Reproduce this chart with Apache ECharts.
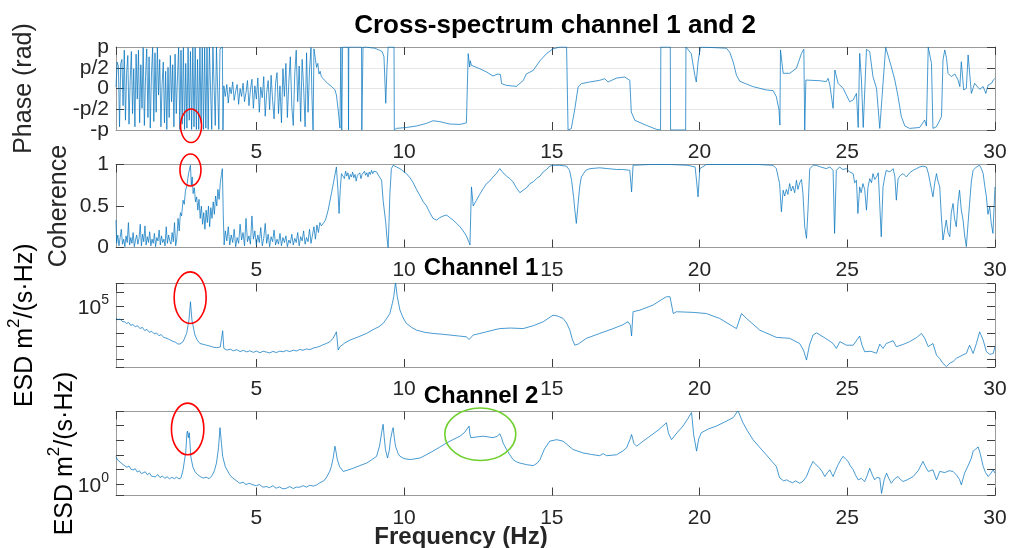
<!DOCTYPE html>
<html><head><meta charset="utf-8">
<script src="https://cdn.jsdelivr.net/npm/echarts@6/dist/echarts.min.js"></script>
<style>html,body{margin:0;padding:0;background:#fff}#c{width:1011px;height:548px}</style>
</head><body><div id="c"></div>
<script>
// ---------------- data ----------------
const FREQ_MIN = 0.25, FREQ_MAX = 30;
const xTickLabels = [5, 10, 15, 20, 25, 30];
const phaseTickLabels = ['-p', '-p/2', '0', 'p/2', 'p'];
const coherenceTickLabels = ['0', '0.5', '1'];
const titles = ['Cross-spectrum channel 1 and 2', 'Channel 1', 'Channel 2'];
const yLabels = ['Phase (rad)', 'Coherence', 'ESD m2/(s·Hz)', 'ESD m2/(s·Hz)'];
const xLabel = 'Frequency (Hz)';

// phase [Hz, rad]
const phase = [
[0.25,0.1],[0.29,2.0],[0.33,1.7],[0.37,-2.9],[0.41,1.9],[0.45,2.2],[0.49,-1.3],[0.53,2.9],[0.57,-2.4],[0.61,1.2],
[0.65,2.5],[0.69,-2.7],[0.73,0.6],[0.77,2.8],[0.81,-1.9],[0.85,1.5],[0.89,-2.9],[0.93,2.6],[0.97,-0.8],[1.01,2.9],
[1.05,-2.6],[1.09,1.8],[1.13,-1.5],[1.17,3.1],[1.21,-2.8],[1.25,0.9],[1.29,3.0],[1.33,-2.2],[1.37,2.4],[1.41,-3.0],
[1.45,1.1],[1.49,3.1],[1.53,-2.5],[1.57,2.7],[1.61,-1.8],[1.65,3.1],[1.69,-0.5],[1.73,2.2],[1.77,-2.9],[1.81,0.3],
[1.85,2.0],[1.89,-2.6],[1.93,1.3],[1.97,-3.1],[2.01,1.6],[2.05,-2.2],[2.09,2.5],[2.13,-1.0],[2.17,1.8],[2.21,-2.9],
[2.25,2.6],[2.29,-1.9],[2.33,0.8],[2.37,3.1],[2.41,-3.1],[2.45,2.9],[2.49,-2.7],[2.53,3.1],[2.57,-3.1],[2.61,1.9],
[2.65,-3.0],[2.69,3.1],[2.73,-2.4],[2.77,2.8],[2.81,-3.1],[2.85,3.1],[2.89,-2.9],[2.93,3.1],[2.97,-3.1],[3.01,2.2],
[3.05,-3.1],[3.09,3.1],[3.13,-2.6],[3.17,3.1],[3.21,-3.1],[3.25,3.1],[3.29,-3.0],[3.33,3.1],[3.37,-3.1],[3.41,3.14],
[3.45,3.14],[3.49,-3.1],[3.53,3.14],[3.57,3.14],[3.61,-2.8],[3.65,3.14],[3.69,3.1],[3.73,-3.1],[3.77,3.0],[3.81,3.14],
[3.85,3.14],[3.87,-3.14],[3.9,0.2],[3.95,-0.6],[4.0,0.3],[4.05,-1.1],[4.1,0.1],[4.15,-0.4],[4.2,0.5],[4.25,-0.9],
[4.3,-0.2],[4.35,0.3],[4.4,-1.2],[4.45,0.0],[4.5,-0.6],[4.55,0.4],[4.6,-1.0],[4.65,-0.3],[4.7,0.6],[4.75,-1.3],
[4.8,-0.1],[4.85,0.7],[4.9,-1.5],[4.95,0.2],[5.0,-0.8],[5.05,0.8],[5.1,-1.8],[5.15,0.1],[5.2,-0.7],[5.25,0.9],
[5.3,-2.1],[5.35,-0.3],[5.4,0.6],[5.45,-1.6],[5.5,1.0],[5.55,-0.9],[5.6,-2.3],[5.65,0.4],[5.7,1.2],[5.75,-1.9],
[5.8,0.2],[5.85,-2.6],[5.9,1.5],[5.95,-0.6],[6.0,1.9],[6.05,-2.2],[6.1,0.5],[6.15,2.4],[6.2,-1.4],[6.25,-2.8],
[6.3,1.1],[6.35,2.9],[6.4,-1.0],[6.45,1.7],[6.5,-2.5],[6.55,2.2],[6.6,0.1],[6.65,-2.9],[6.7,2.7],[6.75,-1.8],
[6.8,1.4],[6.85,3.1],[6.88,-0.5],[6.92,-3.14],[6.95,3.0],[7.0,2.2],[7.04,1.6],[7.08,1.9],[7.12,1.1],[7.16,1.3],
[7.2,0.9],[7.26,0.8],[7.32,0.6],[7.37,0.5],[7.43,0.35],[7.49,0.27],[7.55,0.15],[7.6,0.09],[7.66,-0.1],[7.71,-0.49],
[7.77,-1.63],[7.83,-3.0],[7.86,3.14],[7.89,-3.14],[7.92,3.14],[8.11,3.14],[8.12,-3.14],[8.13,3.14],[8.56,3.14],[8.57,-3.14],
[8.6,-3.14],[8.61,3.14],[8.73,3.14],[8.85,3.09],[9.0,3.05],[9.15,2.92],[9.26,2.79],[9.32,2.4],[9.38,-1.12],[9.42,1.5],
[9.46,3.14],[9.66,3.14],[9.67,-3.14],[9.74,-3.02],[10.08,-2.95],[10.42,-2.84],[10.76,-2.64],[10.98,-2.44],[11.21,-2.51],[11.55,-2.69],
[11.89,-2.72],[12.11,-2.6],[12.16,-2.7],[12.17,2.64],[12.22,1.63],[12.24,2.1],[12.28,1.75],[12.56,1.5],[12.79,1.25],[13.01,0.95],
[13.18,1.1],[13.26,1.05],[13.3,0.37],[13.46,0.24],[13.8,0.16],[14.03,0.6],[14.14,1.1],[14.37,1.37],[14.6,2.1],[14.82,2.64],
[15.04,3.0],[15.27,3.14],[15.5,3.14],[15.55,-3.14],[15.66,-3.04],[15.78,-1.53],[15.89,0.11],[16.0,0.37],[16.28,0.49],[16.62,0.62],
[16.79,0.74],[16.9,0.49],[17.19,0.79],[17.47,0.87],[17.64,0.62],[17.69,-1.78],[17.81,-2.41],[18.2,-2.79],[18.54,-3.09],[18.68,-3.14],
[18.69,3.14],[19.01,3.14],[19.02,-3.14],[19.53,-3.14],[19.54,3.14],[19.72,2.64],[19.84,1.0],[19.89,0.49],[19.95,2.0],[20.03,3.14],
[20.91,3.05],[21.02,2.75],[21.14,2.0],[21.25,1.0],[21.36,0.55],[21.59,0.34],[21.8,0.15],[22.04,0.01],[22.26,-0.11],[22.49,-0.16],
[22.6,-0.62],[22.69,-1.63],[22.72,-2.77],[22.74,2.92],[22.83,1.15],[23.05,1.15],[23.28,1.53],[23.45,2.66],[23.53,2.97],[23.56,-3.14],
[23.6,0.64],[24.07,0.59],[24.29,0.52],[24.35,0.77],[24.41,0.27],[24.52,-1.5],[24.58,1.4],[24.69,0.39],[24.86,0.01],[24.97,-0.49],
[25.08,-1.0],[25.2,-0.87],[25.31,-0.37],[25.37,-2.95],[25.42,2.66],[25.48,0.64],[25.54,-2.95],[25.65,2.97],[25.76,2.79],[25.87,0.9],
[25.99,0.01],[26.1,-3.02],[26.21,0.39],[26.3,3.12],[26.49,1.65],[26.61,0.64],[26.72,-0.62],[26.83,-2.13],[26.95,-2.84],[27.11,-3.02],
[27.45,-2.95],[27.62,-2.39],[27.68,-2.84],[27.74,3.14],[27.85,1.9],[27.9,-3.02],[28.02,-2.89],[28.19,-2.13],[28.24,2.16],[28.3,2.92],
[28.36,2.29],[28.41,1.15],[28.52,0.9],[28.64,1.1],[28.75,0.64],[28.81,0.14],[28.86,2.03],[28.94,-0.11],[29.03,0.01],[29.09,2.54],
[29.14,2.66],[29.2,-0.37],[29.31,0.39],[29.48,-0.06],[29.6,0.14],[29.69,-0.37],[29.77,0.27],[29.88,0.39],[29.94,0.64],[30.0,0.77]
];

// coherence [Hz, -]
const coherence = [
[0.25,0.33],[0.27,0.05],[0.31,0.15],[0.35,0.02],[0.39,0.12],[0.43,0.22],[0.47,0.04],[0.51,0.1],[0.55,0.01],[0.59,0.14],
[0.63,0.06],[0.67,0.3],[0.71,0.03],[0.75,0.12],[0.79,0.05],[0.83,0.18],[0.87,0.01],[0.91,0.09],[0.95,0.15],[0.99,0.04],
[1.03,0.11],[1.07,0.28],[1.11,0.02],[1.15,0.16],[1.19,0.07],[1.23,0.26],[1.27,0.03],[1.31,0.13],[1.35,0.06],[1.39,0.19],
[1.43,0.02],[1.47,0.1],[1.51,0.05],[1.55,0.17],[1.59,0.01],[1.63,0.12],[1.67,0.08],[1.71,0.21],[1.75,0.03],[1.79,0.14],
[1.83,0.06],[1.87,0.1],[1.91,0.02],[1.95,0.25],[1.99,0.05],[2.03,0.15],[2.07,0.08],[2.11,0.04],[2.15,0.18],[2.19,0.07],
[2.23,0.3],[2.27,0.02],[2.31,0.11],[2.35,0.35],[2.39,0.2],[2.43,0.42],[2.47,0.38],[2.52,0.57],[2.56,0.52],[2.6,0.68],
[2.65,0.75],[2.71,0.9],[2.77,0.99],[2.8,0.75],[2.83,0.85],[2.86,0.65],[2.9,0.72],[2.94,0.55],[2.98,0.61],[3.02,0.45],
[3.06,0.58],[3.1,0.35],[3.14,0.5],[3.18,0.28],[3.22,0.42],[3.26,0.22],[3.3,0.45],[3.34,0.3],[3.38,0.5],[3.42,0.25],
[3.46,0.48],[3.5,0.35],[3.54,0.55],[3.58,0.4],[3.62,0.62],[3.66,0.5],[3.7,0.7],[3.74,0.58],[3.78,0.78],[3.82,0.88],
[3.85,0.95],[3.88,0.4],[3.91,0.03],[3.95,0.2],[4.0,0.08],[4.05,0.25],[4.1,0.03],[4.15,0.15],[4.2,0.06],[4.25,0.22],
[4.3,0.01],[4.35,0.12],[4.4,0.05],[4.45,0.28],[4.5,0.09],[4.55,0.18],[4.6,0.02],[4.65,0.35],[4.7,0.07],[4.75,0.14],
[4.8,0.04],[4.85,0.38],[4.9,0.1],[4.95,0.2],[5.0,0.03],[5.05,0.15],[5.1,0.06],[5.15,0.24],[5.2,0.02],[5.25,0.11],
[5.3,0.29],[5.35,0.05],[5.4,0.16],[5.45,0.01],[5.5,0.13],[5.55,0.07],[5.6,0.21],[5.65,0.03],[5.7,0.1],[5.75,0.04],
[5.8,0.17],[5.85,0.02],[5.9,0.12],[5.95,0.06],[6.0,0.14],[6.05,0.01],[6.1,0.09],[6.15,0.05],[6.2,0.16],[6.25,0.03],
[6.3,0.11],[6.35,0.06],[6.4,0.18],[6.45,0.02],[6.5,0.13],[6.55,0.08],[6.6,0.2],[6.65,0.04],[6.7,0.12],[6.75,0.07],
[6.8,0.22],[6.85,0.05],[6.9,0.15],[6.95,0.25],[7.0,0.1],[7.05,0.27],[7.1,0.18],[7.15,0.3],[7.2,0.26],[7.26,0.25],
[7.34,0.33],[7.43,0.45],[7.54,0.65],[7.62,0.8],[7.71,0.97],[7.76,0.7],[7.8,0.41],[7.84,0.7],[7.88,0.89],[7.94,0.9],
[7.98,0.83],[8.02,0.92],[8.06,0.86],[8.1,0.9],[8.14,0.82],[8.18,0.88],[8.22,0.85],[8.26,0.91],[8.3,0.84],[8.34,0.88],
[8.38,0.8],[8.42,0.87],[8.46,0.85],[8.5,0.9],[8.54,0.83],[8.58,0.88],[8.62,0.86],[8.66,0.92],[8.7,0.87],[8.74,0.9],
[8.78,0.85],[8.82,0.91],[8.86,0.88],[8.9,0.93],[8.94,0.89],[8.98,0.92],[9.02,0.9],[9.07,0.91],[9.15,0.86],[9.24,0.81],
[9.29,0.57],[9.33,0.45],[9.38,0.3],[9.42,0.12],[9.46,0.0],[9.49,0.3],[9.52,0.65],[9.57,0.95],[9.63,0.99],[9.69,0.98],
[9.75,0.97],[9.86,0.95],[9.97,0.92],[10.08,0.89],[10.2,0.84],[10.31,0.78],[10.42,0.7],[10.53,0.63],[10.65,0.55],[10.76,0.5],
[10.87,0.42],[10.98,0.35],[11.1,0.33],[11.21,0.36],[11.33,0.38],[11.44,0.39],[11.55,0.36],[11.66,0.33],[11.78,0.29],[11.89,0.25],
[12.0,0.2],[12.11,0.14],[12.2,0.06],[12.23,0.03],[12.28,0.73],[12.34,0.5],[12.45,0.57],[12.56,0.64],[12.68,0.71],[12.79,0.77],
[12.9,0.8],[13.01,0.85],[13.12,0.89],[13.24,0.95],[13.35,0.9],[13.47,0.86],[13.58,0.83],[13.69,0.79],[13.8,0.72],[13.92,0.66],
[13.97,0.64],[14.03,0.69],[14.15,0.72],[14.26,0.77],[14.37,0.79],[14.48,0.83],[14.6,0.86],[14.71,0.91],[14.82,0.94],[14.93,0.98],
[15.04,0.99],[15.27,0.99],[15.5,0.98],[15.6,0.93],[15.67,0.81],[15.74,0.6],[15.78,0.45],[15.83,0.29],[15.89,0.53],[15.95,0.75],
[16.0,0.85],[16.15,0.93],[16.29,0.95],[16.62,0.96],[16.9,0.95],[17.19,0.94],[17.4,0.94],[17.64,0.93],[17.7,0.67],[17.75,0.99],
[18.32,1.0],[19.0,1.0],[19.6,0.99],[19.85,0.97],[19.9,0.8],[19.95,0.61],[20.01,0.95],[20.23,1.0],[21.0,1.0],[22.0,1.0],
[22.49,0.99],[22.6,0.95],[22.66,0.85],[22.71,0.77],[22.77,0.43],[22.83,0.69],[22.88,0.62],[22.94,0.7],[22.99,0.64],[23.05,0.77],
[23.1,0.68],[23.16,0.74],[23.22,0.66],[23.28,0.81],[23.33,0.7],[23.39,0.78],[23.45,0.82],[23.5,0.65],[23.56,0.25],[23.62,0.11],
[23.67,0.45],[23.73,0.95],[23.85,0.99],[23.95,0.99],[24.1,0.97],[24.29,0.95],[24.41,0.97],[24.52,0.93],[24.57,0.17],[24.63,0.93],
[24.74,0.97],[24.85,0.94],[24.97,0.95],[25.08,0.91],[25.2,0.89],[25.25,0.78],[25.31,0.81],[25.36,0.41],[25.42,0.73],[25.47,0.66],
[25.53,0.77],[25.59,0.7],[25.65,0.45],[25.7,0.72],[25.76,0.83],[25.82,0.78],[25.87,0.89],[25.93,0.82],[25.99,0.85],[26.05,0.9],
[26.1,0.89],[26.15,0.13],[26.21,0.73],[26.27,0.85],[26.32,0.93],[26.44,0.91],[26.55,0.95],[26.61,0.86],[26.66,0.57],[26.72,0.83],
[26.8,0.87],[26.89,0.89],[27.0,0.85],[27.11,0.9],[27.23,0.93],[27.34,0.95],[27.45,0.97],[27.56,0.98],[27.68,0.97],[27.74,0.9],
[27.79,0.81],[27.85,0.7],[27.9,0.61],[27.96,0.78],[28.02,0.89],[28.07,0.8],[28.13,0.73],[28.18,0.4],[28.24,0.09],[28.3,0.22],
[28.35,0.33],[28.41,0.18],[28.47,0.13],[28.52,0.42],[28.58,0.53],[28.63,0.35],[28.69,0.25],[28.75,0.55],[28.8,0.69],[28.86,0.45],
[28.92,0.33],[28.97,0.15],[29.03,0.01],[29.09,0.3],[29.14,0.53],[29.2,0.8],[29.26,0.93],[29.37,0.97],[29.48,0.99],[29.54,0.95],
[29.6,0.89],[29.65,0.75],[29.71,0.61],[29.76,0.4],[29.82,0.49],[29.87,0.3],[29.93,0.17],[29.97,0.5],[30.0,0.73]
];

// channel 1 ESD [Hz, m2/(s·Hz)]
const channel1 = [
[0.25,1.3e4],[0.32,9.5e3],[0.39,1.1e4],[0.46,7.2e3],[0.53,6.8e3],[0.61,5.1e3],[0.68,6.0e3],[0.75,3.6e3],[0.82,4.2e3],[0.9,2.9e3],
[0.98,3.4e3],[1.06,2.1e3],[1.14,2.6e3],[1.22,1.5e3],[1.3,1.8e3],[1.38,1.1e3],[1.46,1.3e3],[1.54,8.5e2],[1.62,9.8e2],[1.7,6.2e2],
[1.78,7.4e2],[1.86,4.6e2],[1.94,4.1e2],[2.02,3.5e2],[2.1,2.8e2],[2.18,2.3e2],[2.26,2.0e2],[2.34,1.5e2],[2.41,1.45e2],[2.52,2.2e2],
[2.64,9.1e2],[2.72,9.1e3],[2.77,2.1e5],[2.82,9.1e3],[2.92,6.9e2],[3.0,2.9e2],[3.09,1.6e2],[3.2,1.4e2],[3.31,1.2e2],[3.45,1.0e2],
[3.55,8.5e1],[3.65,7.8e1],[3.78,8.8e1],[3.82,9.3e1],[3.86,1.45e3],[3.9,6.9e1],[4.0,5.2e1],[4.12,6.0e1],[4.22,4.6e1],[4.34,5.6e1],
[4.45,4.0e1],[4.56,5.0e1],[4.67,3.8e1],[4.78,4.6e1],[4.9,3.5e1],[5.0,4.4e1],[5.12,3.3e1],[5.23,4.2e1],[5.34,3.7e1],[5.45,3.2e1],
[5.56,4.1e1],[5.68,3.4e1],[5.79,4.3e1],[5.91,3.9e1],[6.02,4.8e1],[6.13,4.0e1],[6.25,5.1e1],[6.36,4.4e1],[6.47,5.8e1],[6.58,5.0e1],
[6.7,6.3e1],[6.81,5.6e1],[6.93,7.4e1],[7.04,8.3e1],[7.15,1.0e2],[7.26,1.3e2],[7.37,1.6e2],[7.49,2.2e2],[7.6,4.0e2],[7.71,1.2e3],
[7.77,5.2e1],[7.83,9.3e1],[8.0,1.8e2],[8.17,2.9e2],[8.45,5.0e2],[8.73,9.1e2],[9.0,2.0e3],[9.15,2.9e3],[9.29,5.1e3],[9.4,1.1e4],
[9.52,2.8e4],[9.6,1.5e5],[9.65,5.0e5],[9.71,6.0e6],[9.77,5.0e5],[9.86,5.0e4],[9.97,1.3e4],[10.08,5.1e3],[10.25,2.6e3],[10.42,1.6e3],
[10.7,1.1e3],[10.98,9.1e2],[11.27,8.0e2],[11.55,6.9e2],[11.83,5.9e2],[12.11,5.1e2],[12.2,3.2e2],[12.24,4.0e2],[12.34,6.9e2],[12.56,9.0e2],
[12.79,1.2e3],[13.01,1.6e3],[13.24,2.1e3],[13.6,2.3e3],[14.03,2.1e3],[14.37,3.4e3],[14.71,6.8e3],[15.04,2.1e4],[15.2,1.8e4],[15.38,1.2e4],
[15.5,5.5e3],[15.61,1.6e3],[15.7,3.0e2],[15.78,1.2e2],[15.89,1.45e2],[16.17,3.9e2],[16.62,9.1e2],[17.08,2.1e3],[17.4,4.0e3],[17.58,6.8e3],
[17.66,3.8e3],[17.7,5.8e2],[17.75,3.8e4],[17.98,5.0e4],[18.43,1.2e5],[18.7,2.9e5],[18.88,5.0e5],[19.0,5.0e5],[19.11,2.8e4],[19.22,3.8e4],
[19.78,3.4e4],[20.23,2.8e4],[20.68,1.2e4],[21.14,2.9e3],[21.25,2.1e3],[21.42,2.8e4],[21.59,1.2e4],[22.04,1.6e3],[22.6,4.6e2],[23.05,3.9e2],
[23.39,1.6e2],[23.52,5.0e1],[23.62,9.3e0],[23.72,1.2e2],[23.84,6.9e2],[23.96,1.0e3],[24.18,5.1e2],[24.4,2.5e2],[24.52,1.6e2],[24.63,6.9e1],
[24.75,2.2e2],[24.97,1.2e2],[25.2,1.2e2],[25.42,5.8e2],[25.5,1.2e2],[25.59,3.9e1],[25.8,4.2e1],[25.99,3.0e1],[26.1,1.45e2],[26.21,6.9e1],
[26.32,1.6e2],[26.55,2.6e2],[26.66,9.3e1],[26.9,1.4e2],[27.11,2.2e2],[27.35,4.5e2],[27.51,9.1e2],[27.62,4.0e2],[27.74,9.3e1],[27.9,1.6e2],
[28.02,2.2e1],[28.13,1.2e1],[28.24,5.2e0],[28.36,3.0e0],[28.47,5.5e0],[28.58,7.1e0],[28.7,1.3e1],[28.81,1.7e1],[28.92,2.3e1],[29.03,2.9e1],
[29.14,1.2e2],[29.26,2.9e1],[29.37,1.6e2],[29.48,1.2e3],[29.6,2.9e2],[29.71,3.9e1],[29.82,2.5e1],[29.94,2.9e1],[30.0,9.3e1]
];

// channel 2 ESD [Hz, m2/(s·Hz)]
const channel2 = [
[0.25,75],[0.3,45],[0.36,52],[0.42,28],[0.49,21],[0.55,25],[0.62,14],[0.69,17],[0.76,10],[0.83,9.3],
[0.9,11],[0.97,6.5],[1.04,8.0],[1.11,5.0],[1.17,5.5],[1.24,6.8],[1.31,4.2],[1.38,5.6],[1.45,3.4],[1.51,4.1],
[1.58,3.0],[1.66,4.4],[1.74,2.7],[1.82,3.5],[1.9,2.4],[1.98,3.1],[2.06,2.2],[2.14,2.8],[2.22,2.3],[2.3,2.9],
[2.38,2.2],[2.45,2.6],[2.52,9.3],[2.58,60],[2.61,135],[2.65,3000],[2.67,4300],[2.7,1500],[2.73,3300],[2.76,400],
[2.78,79],[2.85,15],[2.92,7.2],[3.0,4.5],[3.1,3.2],[3.2,2.5],[3.3,2.9],[3.4,2.3],[3.5,3.6],[3.58,8],
[3.65,27],[3.72,300],[3.77,7400],[3.82,600],[3.86,79],[3.95,15],[4.1,4.2],[4.2,2.5],[4.3,1.8],[4.44,1.1],
[4.55,1.3],[4.65,0.9],[4.76,1.1],[4.89,0.85],[5.0,0.75],[5.1,0.9],[5.22,0.6],[5.34,0.65],[5.45,0.55],[5.56,0.75],
[5.67,0.5],[5.78,0.62],[5.9,0.45],[6.02,0.5],[6.13,0.65],[6.25,0.48],[6.36,0.6],[6.47,0.59],[6.58,0.75],[6.7,0.6],
[6.81,0.8],[6.93,0.7],[7.04,0.85],[7.15,1.2],[7.25,1.5],[7.32,1.9],[7.4,3.5],[7.48,7],[7.54,16],[7.6,60],
[7.66,390],[7.7,150],[7.74,47],[7.82,15],[7.94,7.2],[8.1,9],[8.28,12],[8.5,18],[8.73,27],[8.9,45],
[9.07,79],[9.17,400],[9.24,3300],[9.29,12600],[9.33,1500],[9.37,230],[9.44,60],[9.5,200],[9.54,1100],[9.6,4500],
[9.63,7400],[9.67,1500],[9.71,390],[9.8,120],[9.86,79],[10.0,55],[10.2,47],[10.54,60],[10.75,100],[10.98,180],
[11.2,330],[11.44,660],[11.65,1100],[11.89,1900],[12.05,3500],[12.2,9500],[12.23,2500],[12.26,1500],[12.45,1700],[12.68,1900],
[12.85,1700],[13.01,1500],[13.15,1900],[13.24,2800],[13.3,1500],[13.35,660],[13.47,230],[13.58,100],[13.69,47],[13.8,33],
[13.92,27],[14.15,21],[14.37,18],[14.5,26],[14.6,47],[14.75,250],[14.93,870],[15.16,1100],[15.38,870],[15.55,450],
[15.72,230],[16.06,135],[16.35,105],[16.62,87],[16.74,120],[16.85,87],[17.19,100],[17.4,180],[17.53,300],[17.65,1200],
[17.7,2500],[17.78,600],[17.87,390],[18.1,900],[18.32,1900],[18.6,5000],[18.88,16000],[18.95,3000],[19.05,1100],[19.25,3500],
[19.44,9500],[19.6,30000],[19.73,81000],[19.8,2500],[19.9,180],[19.97,1200],[20.06,3300],[20.3,6000],[20.57,9500],[20.85,18000],
[21.14,36000],[21.3,110000],[21.47,16000],[21.62,4500],[21.81,1100],[22.05,300],[22.26,100],[22.45,35],[22.6,16],[22.68,4],
[22.72,2.5],[22.85,1.6],[22.95,1.9],[23.05,1.45],[23.15,1.2],[23.25,1.6],[23.39,1.1],[23.5,1.5],[23.62,3.2],[23.73,12],
[23.84,35],[23.95,20],[24.07,12],[24.15,7],[24.24,3.2],[24.33,6],[24.41,9.3],[24.47,5],[24.52,3.2],[24.6,8],
[24.69,21],[24.78,45],[24.86,79],[24.95,50],[25.03,35],[25.1,18],[25.2,9.3],[25.28,4],[25.37,1.9],[25.48,2.4],
[25.59,1.45],[25.68,4],[25.76,12],[25.85,4],[25.93,1.9],[26.0,2.8],[26.1,2.5],[26.16,0.22],[26.25,2.0],[26.33,5.5],
[26.4,2.5],[26.49,1.1],[26.6,2.2],[26.72,3.2],[26.8,2.0],[26.89,1.45],[27.05,2.0],[27.23,3.2],[27.4,8],[27.56,35],
[27.65,15],[27.74,7.2],[27.9,9.3],[28.02,1.9],[28.13,7.2],[28.3,6],[28.45,8],[28.58,7.2],[28.7,4],[28.8,2.0],
[28.86,0.85],[28.97,5.5],[29.1,20],[29.2,60],[29.26,180],[29.35,250],[29.43,350],[29.5,120],[29.6,16],[29.68,6],
[29.77,3.2],[29.85,5],[29.94,9.3],[30.0,5.5]
];

// annotation ellipse centres, in data units of each panel [panel, Hz, value]
const redMarks = [[0, 2.79, -2.82], [1, 2.77, 0.934], [2, 2.76, 4.3e5], [3, 2.675, 6.0e3]];
const greenMarks = [[3, 12.58, 2.6e3]];

// ---------------- chart ----------------
const FONT = "'Liberation Sans', Arial, Helvetica, sans-serif";
const TXT = '#262626';
const FRAME = '#9a9a9a';
const LINE = '#0072BD';
const chart = echarts.init(document.getElementById('c'), null, {renderer: 'canvas'});

const grids = [
  {left: 116, top: 47, width: 879, height: 83},
  {left: 116, top: 164.5, width: 879, height: 83},
  {left: 116, top: 283.5, width: 879, height: 83.5},
  {left: 116, top: 411.5, width: 879, height: 84}
];
const yRanges = [
  {type: 'value', min: -Math.PI, max: Math.PI, interval: Math.PI / 2},
  {type: 'value', min: 0, max: 1, interval: 0.5},
  {type: 'log', logBase: 10, min: Math.pow(10, 0.45), max: Math.pow(10, 6.69)},
  {type: 'log', logBase: 10, min: Math.pow(10, -0.8), max: Math.pow(10, 4.98)}
];
const seriesData = [phase, coherence, channel1, channel2];

function xLabelFmt(v) {
  const r = Math.round(v);
  return (Math.abs(v - r) < 1e-6 && xTickLabels.indexOf(r) >= 0) ? String(r) : '';
}
const yFormatters = [
  v => { const k = Math.round(v / (Math.PI / 2)); return (k === 1 || k === -1 || k === 0) ? phaseTickLabels[k + 2] : ''; },
  v => { const i = Math.round(v / 0.5); return Math.abs(v - i * 0.5) < 1e-6 ? (coherenceTickLabels[i] || '') : ''; },
  v => Math.abs(Math.log10(v) - 5) < 1e-6 ? '{b|10}{s|5}' : '',
  v => Math.abs(Math.log10(v) - 0) < 1e-6 ? '{b|10}{s|0}' : ''
];
const rich = {
  b: {fontFamily: FONT, fontSize: 21, color: TXT, lineHeight: 26, verticalAlign: 'bottom'},
  s: {fontFamily: FONT, fontSize: 14, color: TXT, lineHeight: 26, verticalAlign: 'top'}
};
const tick = {show: true, inside: true, length: 8, lineStyle: {color: '#404040', width: 1}};
const line = {show: true, onZero: false, lineStyle: {color: FRAME, width: 1}};

const xAxis = [], yAxis = [], series = [];
grids.forEach((g, i) => {
  xAxis.push({gridIndex: i, type: 'value', position: 'bottom', min: FREQ_MIN, max: FREQ_MAX,
    axisLine: line, axisTick: tick, splitLine: {show: false},
    axisLabel: {formatter: xLabelFmt, fontFamily: FONT, fontSize: 21, color: TXT, margin: 12, showMinLabel: false, showMaxLabel: true}});
  xAxis.push({gridIndex: i, type: 'value', position: 'top', min: FREQ_MIN, max: FREQ_MAX,
    axisLine: line, axisTick: tick, axisLabel: {show: false}, splitLine: {show: false}});
  const yr = yRanges[i];
  const lab = {formatter: yFormatters[i], fontFamily: FONT, fontSize: 21, color: TXT, margin: 7, hideOverlap: false};
  if (i === 0) { lab.showMinLabel = false; lab.showMaxLabel = false; }
  else { lab.showMinLabel = true; lab.showMaxLabel = true; }
  if (i >= 2) lab.rich = rich;
  yAxis.push(Object.assign({gridIndex: i, position: 'left', axisLine: line, axisTick: tick,
    splitLine: i === 0 ? {show: true, showMinLine: false, showMaxLine: false, lineStyle: {color: '#e6e6e6', width: 1}} : {show: false},
    minorTick: {show: false}, axisLabel: lab}, yr));
  yAxis.push(Object.assign({gridIndex: i, position: 'right', axisLine: line, axisTick: tick,
    axisLabel: {show: false}, splitLine: {show: false}}, yr));
  series.push({type: 'line', xAxisIndex: 2 * i, yAxisIndex: 2 * i, data: seriesData[i],
    showSymbol: false, symbol: 'none', clip: true, animation: false,
    lineStyle: {color: LINE, width: 0.9, opacity: 0.8}});
});
// extra phase axis carrying the ±p labels at the ends of the range
yAxis.push({gridIndex: 0, position: 'left', type: 'value', min: -Math.PI, max: Math.PI, interval: Math.PI,
  axisLine: {show: false}, axisTick: {show: false}, splitLine: {show: false},
  axisLabel: {formatter: v => { const k = Math.round(v / (Math.PI / 2)); return (k === 2 || k === -2) ? phaseTickLabels[k + 2] : ''; },
    fontFamily: FONT, fontSize: 21, color: TXT, margin: 7, showMinLabel: true, showMaxLabel: true, hideOverlap: false}});

function centreY(g) { return g.top + g.height / 2; }
const graphic = [
  {type: 'text', x: 555, y: 26, style: {text: titles[0], font: 'bold 26px ' + FONT, fill: '#000', textAlign: 'center', textVerticalAlign: 'middle'}},
  {type: 'text', x: 481, y: 268, style: {text: titles[1], font: 'bold 24px ' + FONT, fill: '#000', textAlign: 'center', textVerticalAlign: 'middle'}},
  {type: 'text', x: 481, y: 396, style: {text: titles[2], font: 'bold 24px ' + FONT, fill: '#000', textAlign: 'center', textVerticalAlign: 'middle'}},
  {type: 'text', x: 461, y: 537, style: {text: xLabel, font: 'bold 24px ' + FONT, fill: TXT, textAlign: 'center', textVerticalAlign: 'middle'}},
  {type: 'text', x: 24, y: centreY(grids[0]), rotation: Math.PI / 2, style: {text: yLabels[0], font: '25px ' + FONT, fill: TXT, textAlign: 'center', textVerticalAlign: 'middle'}},
  {type: 'text', x: 59, y: centreY(grids[1]), rotation: Math.PI / 2, style: {text: yLabels[1], font: '25px ' + FONT, fill: TXT, textAlign: 'center', textVerticalAlign: 'middle'}}
];
const esdRich = {a: {fontFamily: FONT, fontSize: 25, color: TXT, lineHeight: 32, verticalAlign: 'bottom'},
                 s: {fontFamily: FONT, fontSize: 17, color: TXT, lineHeight: 32, verticalAlign: 'top'}};
function esdText(x, g) {
  const parts = yLabels[2].split('2');
  return {type: 'text', x: x, y: centreY(g), rotation: Math.PI / 2,
    style: {text: '{a|' + parts[0] + '}{s|2}{a|' + parts[1] + '}', rich: esdRich, textAlign: 'center', textVerticalAlign: 'middle'}};
}
graphic.push(esdText(22, grids[2]), esdText(62, grids[3]));

chart.setOption({
  animation: false,
  backgroundColor: '#fff',
  grid: grids,
  xAxis: xAxis,
  yAxis: yAxis,
  series: series,
  graphic: graphic
});

// ellipses positioned from data coordinates
const sizesRed = [[10.5, 16.7], [10.5, 16], [16, 25.8], [16.2, 25.8]];
const ell = [];
redMarks.forEach((m, k) => {
  const p = chart.convertToPixel({gridIndex: m[0]}, [m[1], m[2]]);
  ell.push({type: 'ellipse', shape: {cx: p[0], cy: p[1], rx: sizesRed[k][0], ry: sizesRed[k][1]},
    style: {fill: 'none', stroke: '#ff0000', lineWidth: 1.6}, z: 100});
});
greenMarks.forEach(m => {
  const p = chart.convertToPixel({gridIndex: m[0]}, [m[1], m[2]]);
  ell.push({type: 'ellipse', shape: {cx: p[0], cy: p[1], rx: 35.5, ry: 26.2},
    style: {fill: 'none', stroke: '#6fcf2f', lineWidth: 1.6}, z: 100});
});
chart.setOption({graphic: graphic.concat(ell)});
</script></body></html>
